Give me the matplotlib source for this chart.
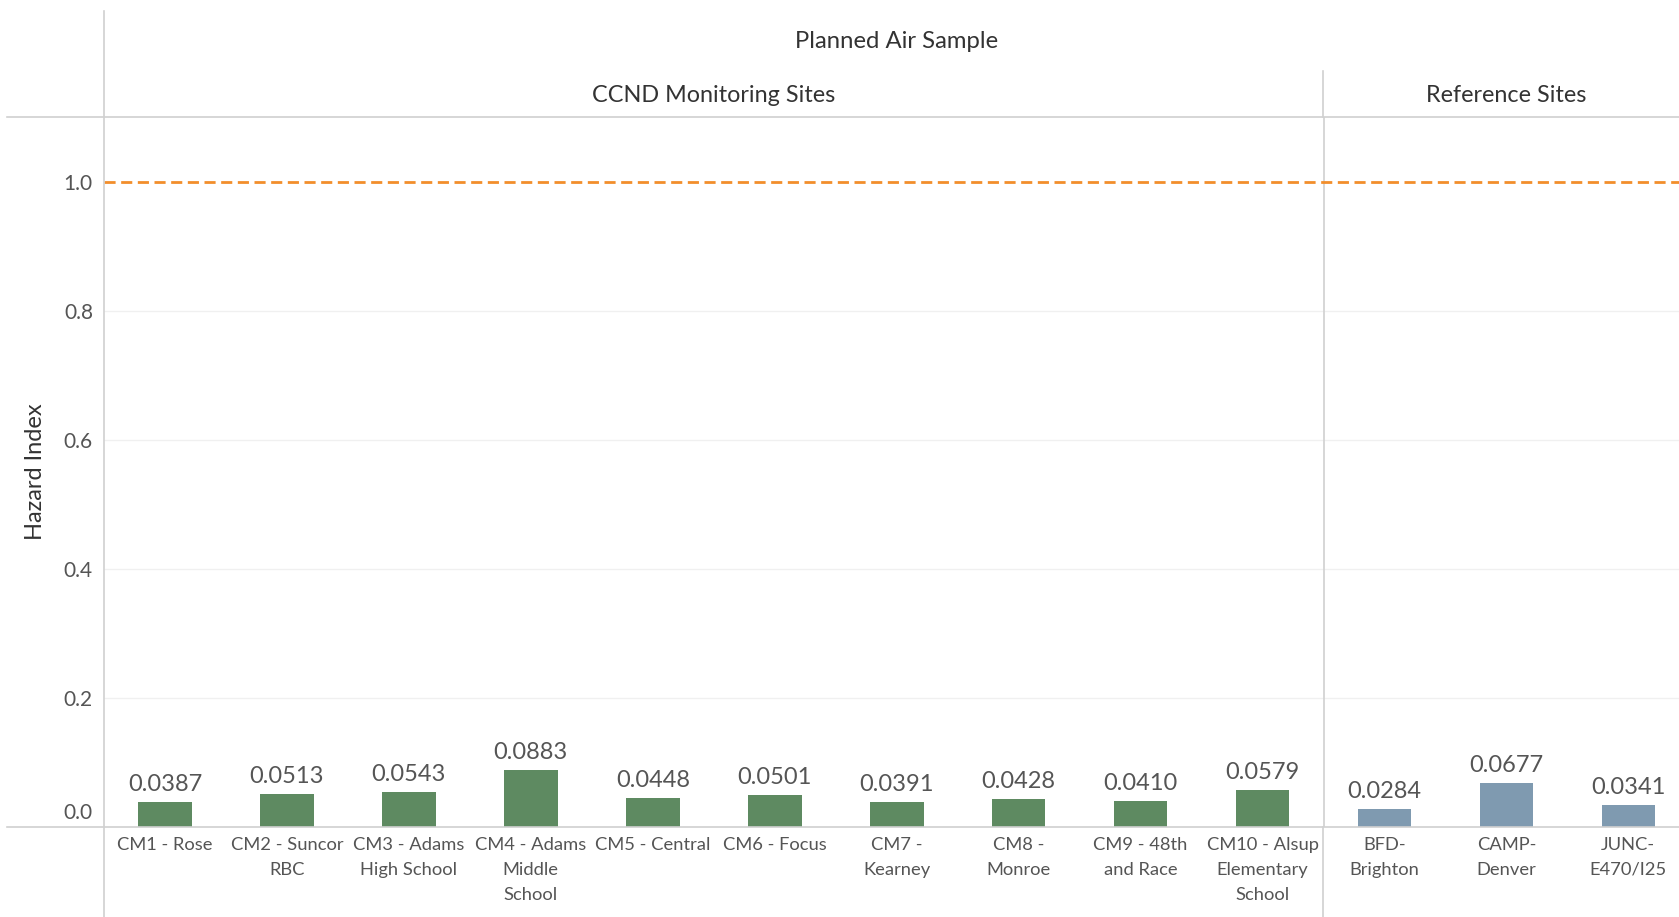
import numpy as np
import matplotlib
matplotlib.use("Agg")
import matplotlib.pyplot as plt
from matplotlib.lines import Line2D
from matplotlib.transforms import ScaledTranslation

sites = ["CM1 - Rose", "CM2 - Suncor\nRBC", "CM3 - Adams\nHigh School",
         "CM4 - Adams\nMiddle\nSchool", "CM5 - Central", "CM6 - Focus",
         "CM7 -\nKearney", "CM8 -\nMonroe", "CM9 - 48th\nand Race",
         "CM10 - Alsup\nElementary\nSchool",
         "BFD-\nBrighton", "CAMP-\nDenver", "JUNC-\nE470/I25"]
hazard = [0.0387, 0.0513, 0.0543, 0.0883, 0.0448, 0.0501, 0.0391,
          0.0428, 0.0410, 0.0579, 0.0284, 0.0677, 0.0341]
groups = ["CCND Monitoring Sites"] * 10 + ["Reference Sites"] * 3
threshold = 1.0
yticks = [0.0, 0.2, 0.4, 0.6, 0.8, 1.0]

plt.rcParams["font.family"] = ["Lato", "DejaVu Sans"]

W, H = 1679, 917
dpi = 100
fig = plt.figure(figsize=(W / dpi, H / dpi), dpi=dpi)

left_px, base_px, top_px = 104, 827, 117
ax = fig.add_axes([left_px / W, 1 - base_px / H, 1 - left_px / W, (base_px - top_px) / H])

colors = {"CCND Monitoring Sites": "#5e8a61", "Reference Sites": "#7f9ab0"}
x = np.arange(len(sites))
bars = ax.bar(x, hazard, width=0.44, color=[colors[g] for g in groups], zorder=3)
for xi, v in zip(x, hazard):
    ax.annotate(f"{v:.4f}", (xi, v), xytext=(0, 5), textcoords="offset points",
                ha="center", va="bottom", fontsize=17, color="#555555")

ax.set_xlim(-0.5, 12.415)
ax.set_ylim(0, 1.1008)
for s in ax.spines.values():
    s.set_visible(False)

ax.set_xticks(x)
ax.set_xticklabels(sites, fontsize=13.2, color="#555555", linespacing=1.7)
ax.tick_params(axis="x", length=0, pad=7)
ax.set_yticks(yticks)
ax.set_yticklabels([f"{t:.1f}" for t in yticks], fontsize=15, color="#555555")
ax.tick_params(axis="y", length=0, pad=8)
lab0 = ax.get_yticklabels()[0]
lab0.set_transform(lab0.get_transform() + ScaledTranslation(0, 16 / dpi, fig.dpi_scale_trans))

for t in yticks[1:-1]:
    ax.axhline(t, color="#f0f0f0", lw=1, zorder=1)
ax.axhline(threshold, color="#f28e2b", lw=2, ls=(0, (4, 2)), zorder=4)
ax.axvline(9.5, color="#d0d0d0", lw=1.2, zorder=2)

ax.set_ylabel("Hazard Index", fontsize=17, color="#333333")
ax.yaxis.set_label_coords(-(104 - 46) / (W - left_px), 0.5)

# header / frame lines in figure coords
def fline(x0, y0, x1, y1):
    fig.add_artist(Line2D([x0 / W, x1 / W], [1 - y0 / H, 1 - y1 / H],
                          color="#d0d0d0", lw=1.2))

fline(104, 11, 104, H)
fline(7, top_px, W, top_px)
fline(7, base_px, W, base_px)
fline(1323, 71, 1323, top_px)
fline(1323, base_px, 1323, H)

# headers
panel_right = 12.5
fig.text(0.5 * (104 + 1690) / W, 1 - 42 / H, "Planned Air Sample",
         ha="center", va="center", fontsize=17.2, color="#333333")
hy = 1 + (top_px - 95) / (base_px - top_px)
ax.text(4.5, hy, "CCND Monitoring Sites",
        transform=ax.get_xaxis_transform(), ha="center", va="center",
        fontsize=16.8, color="#333333", clip_on=False)
ax.text((9.5 + panel_right) / 2, hy, "Reference Sites",
        transform=ax.get_xaxis_transform(), ha="center", va="center",
        fontsize=16.8, color="#333333", clip_on=False)

fig.savefig("out.png", dpi=dpi)
